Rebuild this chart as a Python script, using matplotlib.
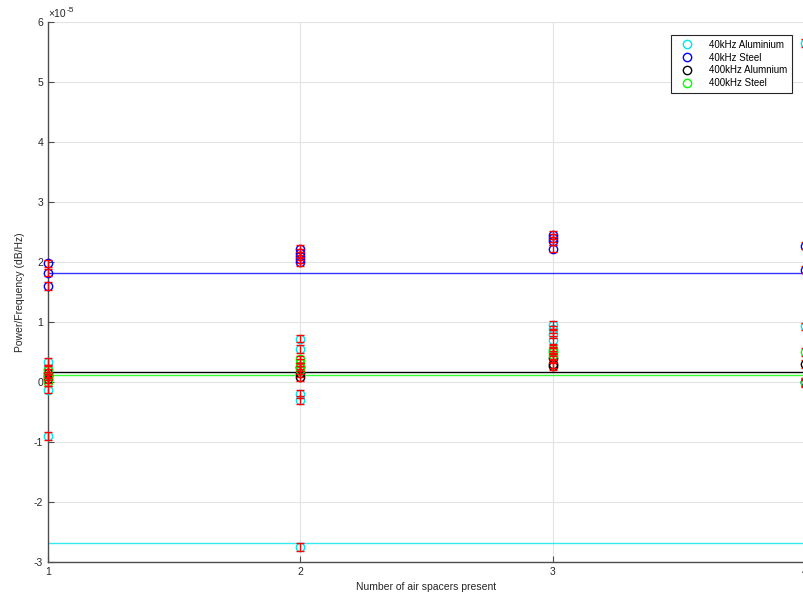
import matplotlib
matplotlib.use("Agg")
import matplotlib.pyplot as plt
import matplotlib.ticker as ticker

plt.rcParams["font.family"] = ["Liberation Sans", "DejaVu Sans"]
plt.rcParams["axes.unicode_minus"] = False

# ── Measurements (power / frequency, units of 1e-5) ──────────────────────────
al40_x = [1, 1, 1, 1, 2, 2, 2, 2, 2, 3, 3, 3, 3, 3, 4, 4, 4]
al40_y = [0.34, 0.22, -0.13, -0.90, 0.72, 0.55, -0.20, -0.30, -2.75,
          0.95, 0.88, 0.80, 0.70, 0.52, 5.65, 0.93, 0.00]

st40_x = [1, 1, 1, 2, 2, 2, 2, 2, 3, 3, 3, 3, 4, 4]
st40_y = [1.98, 1.82, 1.60, 2.22, 2.15, 2.10, 2.05, 2.00,
          2.45, 2.40, 2.35, 2.22, 2.27, 1.87]

al400_x = [1, 1, 1, 2, 2, 2, 3, 3, 3, 4, 4]
al400_y = [0.15, 0.10, 0.05, 0.25, 0.15, 0.08, 0.40, 0.30, 0.26, 0.30, 0.00]

st400_x = [1, 1, 1, 2, 2, 2, 2, 3, 3, 3, 4, 4]
st400_y = [0.20, 0.10, 0.00, 0.38, 0.32, 0.25, 0.20, 0.55, 0.50, 0.45,
           0.50, -0.02]

err = 0.06  # symmetric error, 1e-5

# reference levels per series (1e-5)
ref_al40 = -2.68
ref_st40 = 1.81
ref_al400 = 0.17
ref_st400 = 0.12

SCALE = 1e-5
series = [
    ("40kHz Aluminium", al40_x, al40_y, ref_al40, "#00e5ee"),
    ("40kHz Steel", st40_x, st40_y, ref_st40, "#0000ff"),
    ("400kHz Alumnium", al400_x, al400_y, ref_al400, "#000000"),
    ("400kHz Steel", st400_x, st400_y, ref_st400, "#00ff00"),
]

fig = plt.figure(figsize=(8.04, 6.0), dpi=100)
ax = fig.add_axes([0.0597, 0.0633, 0.9415, 0.90])

AXC = "#4d4d4d"
TXT = "#262626"
for name, xs, ys, ref, col in series:
    ax.axhline(ref * SCALE, color=col, linewidth=1.0,
               alpha=0.8 if col != "#000000" else 1.0, zorder=2)

handles = []
for name, xs, ys, ref, col in series:
    yv = [v * SCALE for v in ys]
    h = ax.plot(xs, yv, linestyle="none", marker="o", markersize=6,
                markerfacecolor="none", markeredgecolor=col,
                markeredgewidth=1.0, label=name, zorder=3, clip_on=False)[0]
    handles.append(h)
    ax.errorbar(xs, yv, yerr=err * SCALE, fmt="none", ecolor="#ff0000",
                elinewidth=1.0, capsize=2.8, capthick=1.0, zorder=4,
                clip_on=False)

ax.set_xlim(1, 4)
ax.set_ylim(-3e-5, 6e-5)
ax.set_xticks([1, 2, 3, 4])
ax.set_yticks([v * SCALE for v in range(-3, 7)])
ax.yaxis.set_major_formatter(
    ticker.FuncFormatter(lambda v, p: f"{round(v / SCALE):d}"))

# exponent label above the y axis
ax.annotate("\u00d710", xy=(0.0, 1.0), xycoords="axes fraction",
            xytext=(0, 2), textcoords="offset points", fontsize=7.5,
            color=TXT, ha="left", va="bottom")
ax.annotate("-5", xy=(0.0, 1.0), xycoords="axes fraction",
            xytext=(13.5, 6), textcoords="offset points", fontsize=6,
            color=TXT, ha="left", va="bottom")

ax.grid(True, color="#e3e3e3", linewidth=0.8)
ax.set_axisbelow(True)
for s in ("top", "right"):
    ax.spines[s].set_visible(False)
for s in ("left", "bottom"):
    ax.spines[s].set_color(AXC)
    ax.spines[s].set_linewidth(1.0)
ax.tick_params(direction="in", length=4, width=0.8, color=AXC,
               labelcolor=TXT, labelsize=7.5)

ax.set_xlabel("Number of air spacers present", fontsize=7.5, color=TXT,
              labelpad=4)
ax.set_ylabel("Power/Frequency (dB/Hz)", fontsize=7.5, color=TXT,
              labelpad=6)

leg = ax.legend(handles=handles, loc="upper right",
                bbox_to_anchor=(0.989, 0.985), fontsize=7,
                frameon=True, fancybox=False, edgecolor=TXT,
                framealpha=1.0, handlelength=2.4, handletextpad=1.0,
                borderpad=0.5, labelspacing=0.28)
leg.get_frame().set_linewidth(0.8)

plt.savefig("out.png", dpi=100)
